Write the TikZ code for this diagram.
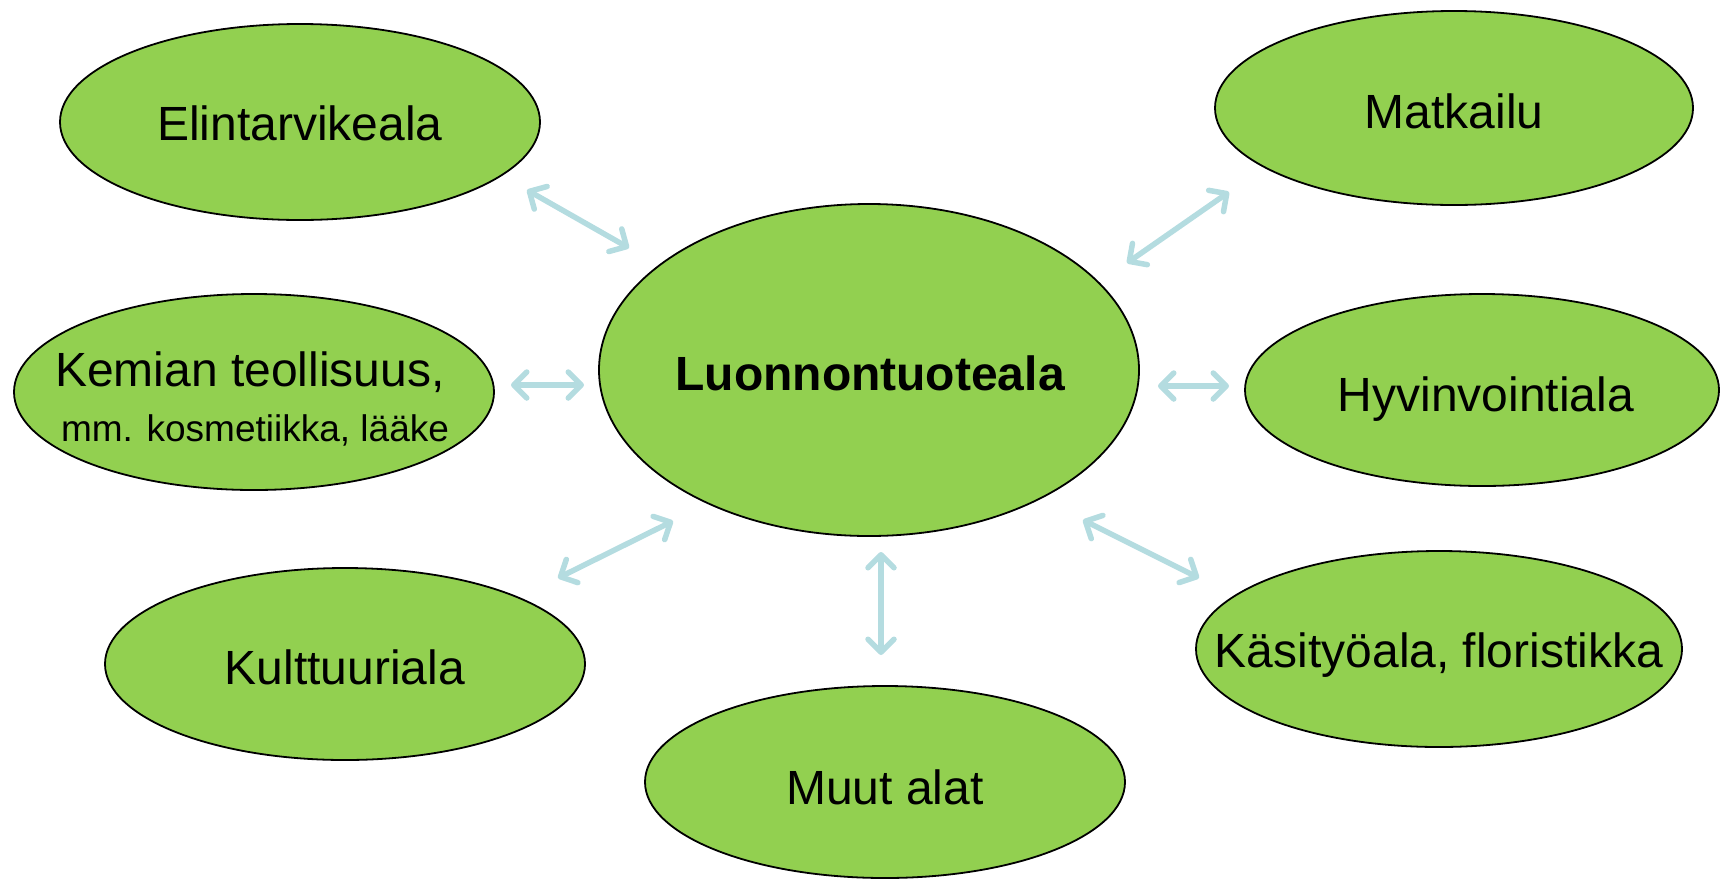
\documentclass[tikz,border=0pt]{standalone}
\usepackage{fontspec}
\setmainfont{Liberation Sans}
\usetikzlibrary{shapes.geometric,arrows.meta}
\definecolor{leaf}{HTML}{92D050}
\definecolor{link}{HTML}{B4DCE0}
\tikzset{
  field/.style={ellipse, draw=black, line width=1.8pt, fill=leaf, inner sep=0pt},
  lbl/.style={anchor=base, inner sep=0pt, font=\fontsize{48}{56}\selectfont},
  small/.style={anchor=base, inner sep=0pt, font=\fontsize{37}{44}\selectfont},
  link/.style={draw=link, line width=5.5pt, line cap=round,
    {Straight Barb[round,length=13pt,width=26pt]}-{Straight Barb[round,length=13pt,width=26pt]}}
}
\begin{document}
\begin{tikzpicture}[x=1pt,y=-1pt]
\useasboundingbox (0,0) rectangle (1721,879);
% ellipses
\node[field, minimum width=480pt, minimum height=196pt] (elin) at (300,122) {};
\node[field, minimum width=478pt, minimum height=194pt] (matk) at (1454,108) {};
\node[field, minimum width=540pt, minimum height=332pt] (luon) at (869,370) {};
\node[field, minimum width=480pt, minimum height=196pt] (kemi) at (254,392) {};
\node[field, minimum width=474pt, minimum height=192pt] (hyvi) at (1482,390) {};
\node[field, minimum width=480pt, minimum height=192pt] (kult) at (345,664) {};
\node[field, minimum width=486pt, minimum height=196pt] (kasi) at (1439,649) {};
\node[field, minimum width=480pt, minimum height=192pt] (muut) at (885,782) {};
% texts
\node[lbl] (elint) at (300,140) {Elintarvikeala};
\node[lbl] (matkt) at (1454,128) {Matkailu};
\node[lbl, font=\fontsize{48}{56}\selectfont\bfseries] (luont) at (870,390) {Luonnontuoteala};
\node[lbl] (kemit) at (250,386) {Kemian teollisuus,};
\node[small] (kemis) at (255,441) {mm. kosmetiikka, lääke};
\node[lbl] (hyvit) at (1486,411) {Hyvinvointiala};
\node[lbl] (kultt) at (345,684) {Kulttuuriala};
\node[lbl] (kasit) at (1439,667) {Käsityöala, floristikka};
\node[lbl] (muutt) at (885,804) {Muut alat};
% arrow ends
\coordinate (a1) at (527,190); \coordinate (b1) at (629,248);
\coordinate (a2) at (1229,192); \coordinate (b2) at (1127,263);
\coordinate (a3) at (511,385); \coordinate (b3) at (584,385);
\coordinate (a4) at (1229,386); \coordinate (b4) at (1158,386);
\coordinate (a5) at (558,578); \coordinate (b5) at (673,521);
\coordinate (a6) at (1199,578); \coordinate (b6) at (1083,520);
\coordinate (a7) at (881,655); \coordinate (b7) at (881,552);
\foreach \i in {1,...,7} {\draw[link] (a\i) -- (b\i);}
\end{tikzpicture}
\end{document}
